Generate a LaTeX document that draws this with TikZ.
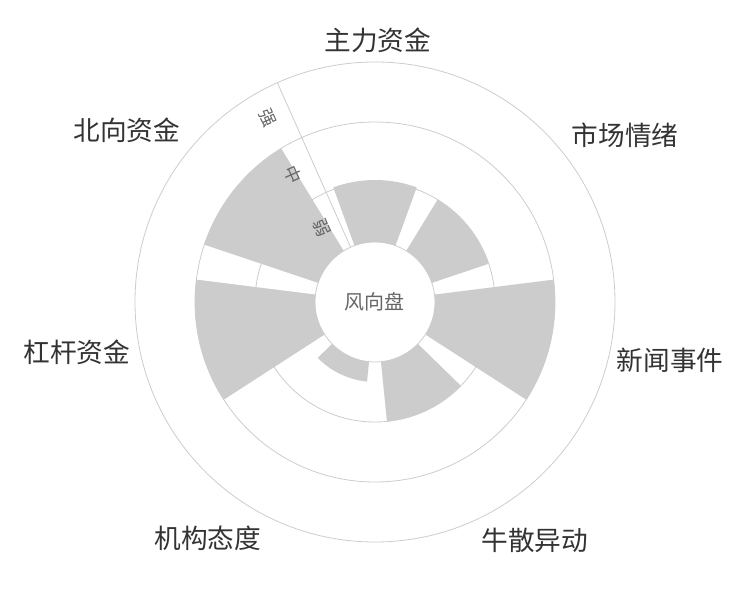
\documentclass[tikz,border=0pt]{standalone}
\usepackage{fontspec}
\newfontfamily\cjk{Noto Sans CJK SC}
\begin{document}
\begin{tikzpicture}[x=0.75pt,y=0.75pt,
  bar/.style={fill=barc,draw=none},
  grid/.style={draw=gridc,line width=0.6pt},
  cat/.style={font=\cjk\fontsize{20}{24}\selectfont,text=black!80},
  tick/.style={font=\cjk\fontsize{13}{15}\selectfont,text=black!60,rotate=-66}]
\definecolor{barc}{HTML}{CCCCCC}
\definecolor{gridc}{HTML}{CCCCCC}
\useasboundingbox (-375,-298) rectangle (375,302);
\draw[grid] (0,0) circle (240);
\draw[grid] (0,0) circle (180);
\draw[grid] (0,0) circle (120);
\foreach \a/\r in {90/122,38.57/120,-12.86/180,-64.29/120,-115.71/80,-167.14/180,141.43/180}{
  \fill[bar] ({\a-20}:60) arc ({\a-20}:{\a+20}:60) -- ({\a+20}:\r) arc ({\a+20}:{\a-20}:\r) -- cycle;
}
\draw[grid] (0,0) circle (60);
\coordinate (ax0) at (114:60);
\coordinate (ax1) at (114:240);
\draw[grid] (ax0) -- (ax1);
\node[tick] (t1) at (-53,74) {弱};
\node[tick] (t2) at (-82,127) {中};
\node[tick] (t3) at (-107,184) {强};
\node[font=\cjk\fontsize{15}{18}\selectfont,text=black!60] (c) at (0,0) {风向盘};
\node[cat] (l1) at (3,262) {主力资金};
\node[cat] (l2) at (250,167) {市场情绪};
\node[cat] (l3) at (295,-58) {新闻事件};
\node[cat] (l4) at (160,-238) {牛散异动};
\node[cat] (l5) at (-167,-236) {机构态度};
\node[cat] (l6) at (-298,-50) {杠杆资金};
\node[cat] (l7) at (-248,172) {北向资金};
\end{tikzpicture}
\end{document}
